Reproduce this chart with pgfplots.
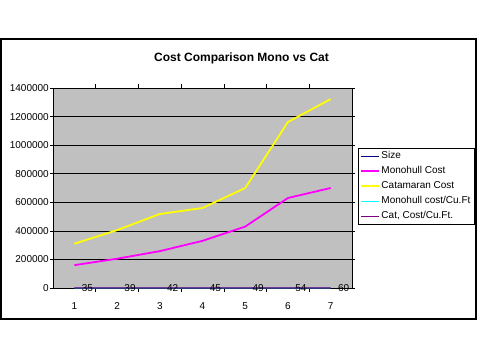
\documentclass[border=0pt]{standalone}
\usepackage{fontspec}
\setmainfont{Liberation Sans}
\usepackage{pgfplots}
\pgfplotsset{compat=1.18}
\definecolor{plotgray}{HTML}{C0C0C0}
\definecolor{navy}{HTML}{000080}
\definecolor{magentaX}{HTML}{FF00FF}
\definecolor{yellowX}{HTML}{FFFF00}
\definecolor{cyanX}{HTML}{00FFFF}
\definecolor{purpleX}{HTML}{800080}
\begin{document}
\begin{tikzpicture}
\path[use as bounding box] (0pt,0pt) rectangle (479pt,360pt);
\draw[line width=1.2pt] (1pt,41pt) rectangle (476pt,321pt);
\node[font=\fontsize{12}{14}\selectfont\bfseries] at (241.5pt,302pt) {Cost Comparison Mono vs Cat};
\begin{axis}[
  at={(53pt,72pt)}, anchor=south west,
  scale only axis, width=299pt, height=200pt,
  xmin=0.5, xmax=7.5, ymin=0, ymax=1400000,
  xtick={1,2,3,4,5,6,7},
  minor xtick={1.5,2.5,3.5,4.5,5.5,6.5},
  ytick={0,200000,400000,600000,800000,1000000,1200000,1400000},
  yticklabels={0,200000,400000,600000,800000,1000000,1200000,1400000},
  xticklabels={1,2,3,4,5,6,7},
  scaled y ticks=false,
  axis background/.style={fill=plotgray},
  axis line style={black, line width=0.6pt},
  ymajorgrids,
  major grid style={black, line width=0.6pt},
  tick align=outside,
  major tick length=3pt,
  minor tick length=4pt,
  major x tick style={draw=none},
  minor x tick style={black, line width=0.6pt},
  ytick style={black, line width=0.6pt},
  tick label style={font=\fontsize{10}{12}\selectfont},
  yticklabel style={inner sep=0pt, xshift=-1pt},
  xticklabel style={yshift=-8pt},
  legend style={at={(1.02,0.70)}, anchor=north west, draw=black, fill=white,
    font=\fontsize{10}{12}\selectfont, row sep=3pt, inner sep=2pt,
    nodes={text height=7pt, text depth=2pt, inner sep=1.5pt}},
  legend cell align=left,
  legend image code/.code={\draw[#1] (0pt,0pt) -- (18pt,0pt);},
]
\addplot[navy, line width=0.8pt, nodes near coords={\pgfplotspointmeta}, point meta=explicit symbolic,
  every node near coord/.append style={anchor=west, inner sep=0pt, xshift=7pt, yshift=0pt, font=\fontsize{10}{12}\selectfont, black}]
  coordinates {(1,35)[35] (2,39)[39] (3,42)[42] (4,45)[45] (5,49)[49] (6,54)[54] (7,60)[60]};
\addlegendentry{Size}
\addplot[magentaX, line width=1.8pt] coordinates {(1,160000) (2,205000) (3,258000) (4,330000) (5,430000) (6,630000) (7,700000)};
\addlegendentry{Monohull Cost}
\addplot[yellowX, line width=1.8pt] coordinates {(1,310000) (2,405000) (3,518000) (4,560000) (5,700000) (6,1162000) (7,1322000)};
\addlegendentry{Catamaran Cost}
\addplot[cyanX, line width=0.8pt] coordinates {(1,37) (2,35) (3,35) (4,36) (5,37) (6,40) (7,32)};
\addlegendentry{Monohull cost/Cu.Ft}
\addplot[purpleX, line width=1pt] coordinates {(1,72) (2,70) (3,70) (4,61) (5,60) (6,74) (7,61)};
\addlegendentry{Cat, Cost/Cu.Ft.}
\end{axis}
\end{tikzpicture}
\end{document}
